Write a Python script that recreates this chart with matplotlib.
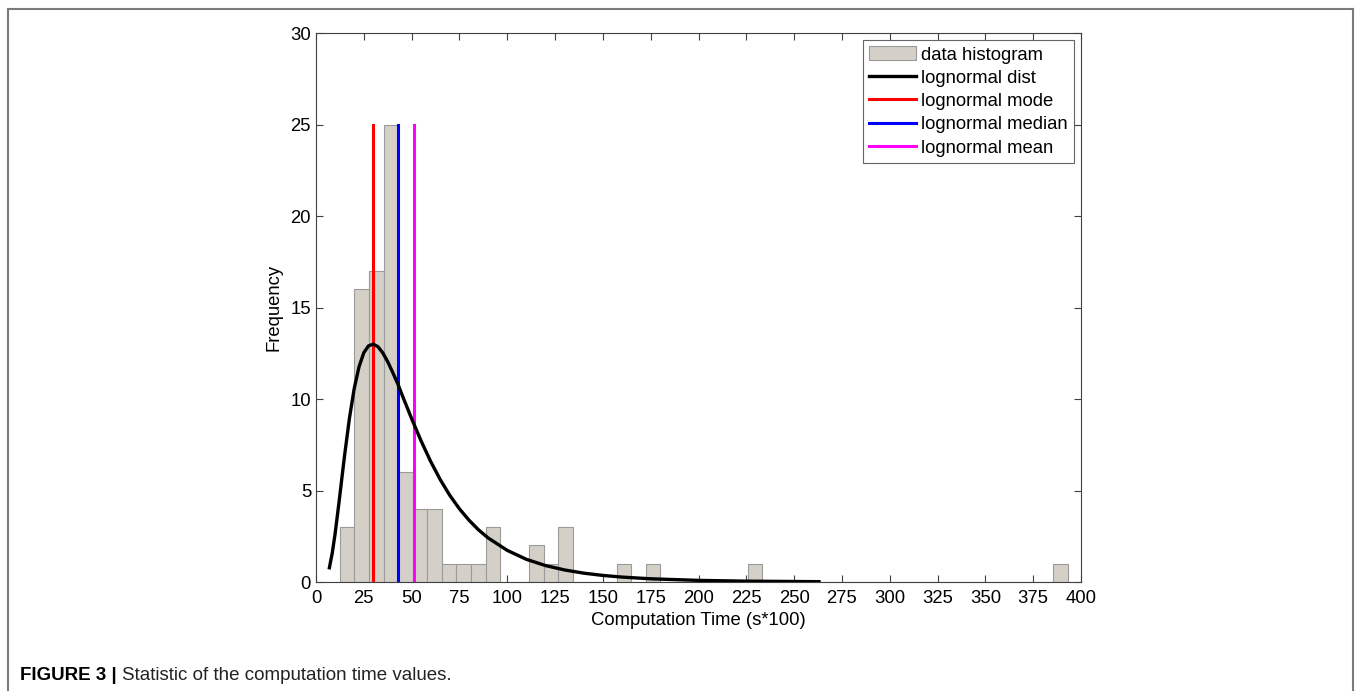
import numpy as np
import matplotlib as mpl
import matplotlib.pyplot as plt
from matplotlib.lines import Line2D

# histogram: 50 equal bins between the smallest and largest computation time
bin_lo, bin_hi, n_bins = 12.5, 393.2, 50
counts = [3, 16, 17, 25, 6, 4, 4, 1, 1, 1,
          3, 0, 0, 2, 1, 3, 0, 0, 0, 1,
          0, 1, 0, 0, 0, 0, 0, 0, 1, 0,
          0, 0, 0, 0, 0, 0, 0, 0, 0, 0,
          0, 0, 0, 0, 0, 0, 0, 0, 0, 1]

# fitted lognormal curve
curve_x = [7, 8.5, 10, 12, 13.5, 15, 17.5, 20, 22.5, 25, 27.5, 30, 32.5, 35,
           37.5, 40, 42.7, 45, 47.5, 50, 55, 60, 65, 70, 75, 80, 85, 90,
           100, 110, 120, 130, 140, 150, 160, 175, 200, 225, 263]
curve_y = [0.78, 1.58, 2.64, 4.32, 5.65, 6.96, 8.96, 10.58, 11.76, 12.53,
           12.91, 13.0, 12.85, 12.51, 12.04, 11.48, 10.85, 10.23, 9.58, 8.93,
           7.70, 6.58, 5.59, 4.73, 4.0, 3.38, 2.85, 2.41, 1.73, 1.24, 0.90,
           0.66, 0.485, 0.36, 0.27, 0.177, 0.09, 0.048, 0.02]

stat_names = ["lognormal mode", "lognormal median", "lognormal mean"]
stat_values = [29.6, 42.7, 51.4]
stat_colors = ["#ff0000", "#0000ff", "#ff00ff"]
stat_height = 25

FS = 13.3

mpl.rcParams.update({
    "font.family": ["Liberation Sans", "DejaVu Sans"],
    "font.size": FS,
})

fig = plt.figure(figsize=(13.55, 6.91), dpi=100)
ax = fig.add_axes([0.2332, 0.1577, 0.5646, 0.7945])

edges = np.linspace(bin_lo, bin_hi, n_bins + 1)
centers = (edges[:-1] + edges[1:]) / 2
ax.hist(centers, bins=edges, weights=counts, color="#d4d0c8",
        edgecolor="#9a9a9a", linewidth=0.8, label="data histogram", zorder=2)

ax.plot(curve_x, curve_y, color="black", linewidth=2.4,
        label="lognormal dist", zorder=4)

for name, val, col in zip(stat_names, stat_values, stat_colors):
    ax.plot([val, val], [0, stat_height], color=col, linewidth=2.2,
            label=name, zorder=3)

ax.set_xlim(0, 400)
ax.set_ylim(0, 30)
ax.set_xticks(np.arange(0, 401, 25))
ax.set_yticks(np.arange(0, 31, 5))
ax.tick_params(direction="in", length=5, width=0.8, color="#404040",
               top=True, right=True, labelsize=FS)
ax.tick_params(axis="x", pad=5.5)
ax.tick_params(axis="y", pad=3.5)
for sp in ax.spines.values():
    sp.set_color("#404040")
    sp.set_linewidth(0.8)

ax.set_xlabel("Computation Time (s*100)", fontsize=FS, labelpad=4)
ax.set_ylabel("Frequency", fontsize=FS, labelpad=6)

leg = ax.legend(loc="upper right", fontsize=FS, frameon=True, fancybox=False,
                borderaxespad=0.38, handlelength=2.55, handletextpad=0.28,
                labelspacing=0.31, borderpad=0.34, handleheight=0.8)
leg.get_frame().set_edgecolor("#404040")
leg.get_frame().set_linewidth(0.8)

# outer frame of the figure panel
frame_kw = dict(color="#7a7a7a", linewidth=1.5, transform=fig.transFigure)
fig.add_artist(Line2D([8 / 1355, 8 / 1355], [0, 1 - 9 / 691], **frame_kw))
fig.add_artist(Line2D([8 / 1355, 1353 / 1355], [1 - 9 / 691, 1 - 9 / 691], **frame_kw))
fig.add_artist(Line2D([1353 / 1355, 1353 / 1355], [0, 1 - 9 / 691], **frame_kw))

# caption
cap_y = 1 - 676 / 691
t1 = fig.text(20 / 1355, cap_y, "FIGURE 3 |", fontsize=13.5, fontweight="bold",
              va="center", ha="left")
fig.canvas.draw()
bb = t1.get_window_extent()
fig.text((bb.x1 + 5) / 1355, cap_y, "Statistic of the computation time values.",
         fontsize=13.5, va="center", ha="left", color="#222222")

fig.savefig("out.png", dpi=100)
